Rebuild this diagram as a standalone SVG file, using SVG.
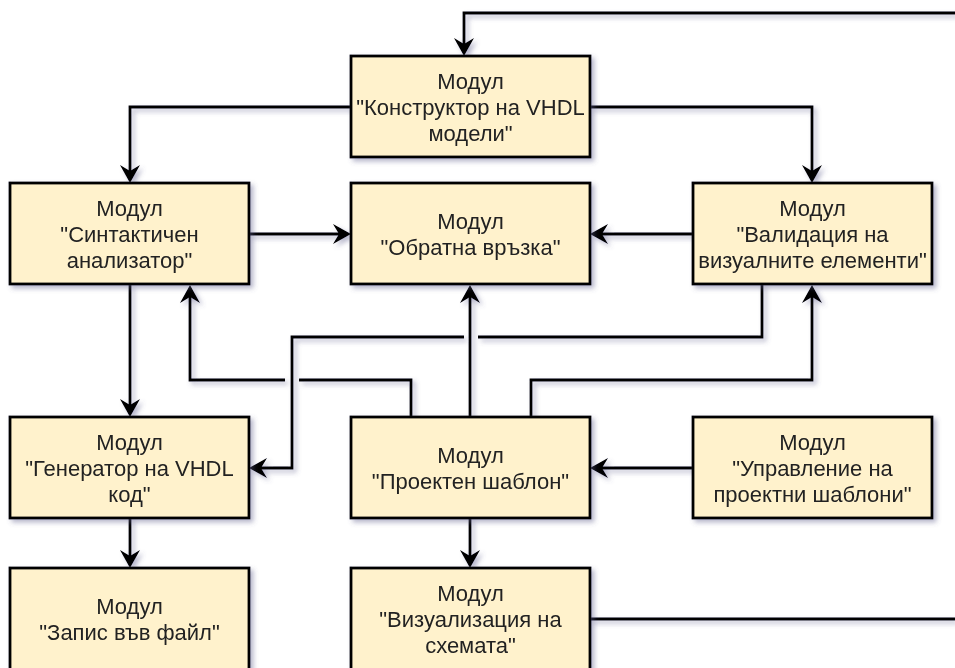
<svg xmlns="http://www.w3.org/2000/svg" width="955" height="668" viewBox="0 0 955 668">
<style>
.box{fill:#fff2cc;stroke:#000;stroke-width:2.8}
.t{font-family:"Liberation Sans",Arial,sans-serif;font-size:22px;fill:#222;text-anchor:middle}
.c{fill:none;stroke:#000;stroke-width:2.8;marker-end:url(#arr)}
.n{fill:none;stroke:#000;stroke-width:2.8}
</style>
<defs>
<filter id="sh" x="-10%" y="-10%" width="130%" height="140%">
<feDropShadow dx="3" dy="3" stdDeviation="2.5" flood-color="#5a5a8a" flood-opacity="0.45"/>
</filter>
<marker id="arr" markerUnits="userSpaceOnUse" markerWidth="20" markerHeight="20" refX="6" refY="10" orient="auto" overflow="visible">
<path d="M0,0 L18,10 L0,20 L6,10 Z" fill="#000"/>
</marker>
</defs>
<rect width="955" height="668" fill="#fff"/>
<g id="connectors" filter="url(#sh)">
<path class="c" d="M955,13 H464 V44"/>
<path class="c" d="M351,107 H130 V171"/>
<path class="c" d="M590,107 H812 V171"/>
<path class="c" d="M249,234 H339"/>
<path class="c" d="M693,234 H602"/>
<path class="c" d="M130,284 V405"/>
<path class="c" d="M411,417 V380 H299 M285,380 H190 V297"/>
<path class="c" d="M762,284 V337 H478 M464,337 H292 V468 H261"/>
<path class="c" d="M470,417 V297"/>
<path class="c" d="M531,417 V380 H812 V297"/>
<path class="c" d="M693,468 H602"/>
<path class="c" d="M470,518 V556"/>
<path class="c" d="M130,518 V556"/>
<path class="n" d="M590,619 H955"/>
</g>
<g id="n-constructor" filter="url(#sh)">
<rect class="box" x="351" y="56" width="239" height="101"/>
<text class="t"><tspan x="470.5" y="88.6">Модул</tspan><tspan x="470.5" y="115">"Конструктор на VHDL</tspan><tspan x="470.5" y="141.4">модели"</tspan></text>
</g>
<g id="n-syntax" filter="url(#sh)">
<rect class="box" x="10" y="183" width="239" height="101"/>
<text class="t"><tspan x="129.5" y="215.6">Модул</tspan><tspan x="129.5" y="242">"Синтактичен</tspan><tspan x="129.5" y="268.4">анализатор"</tspan></text>
</g>
<g id="n-feedback" filter="url(#sh)">
<rect class="box" x="351" y="183" width="239" height="101"/>
<text class="t"><tspan x="470.5" y="228.8">Модул</tspan><tspan x="470.5" y="255.2">"Обратна връзка"</tspan></text>
</g>
<g id="n-validation" filter="url(#sh)">
<rect class="box" x="693" y="183" width="239" height="101"/>
<text class="t"><tspan x="812.5" y="215.6">Модул</tspan><tspan x="812.5" y="242">"Валидация на</tspan><tspan x="812.5" y="268.4">визуалните елементи"</tspan></text>
</g>
<g id="n-generator" filter="url(#sh)">
<rect class="box" x="10" y="417" width="239" height="101"/>
<text class="t"><tspan x="129.5" y="449.6">Модул</tspan><tspan x="129.5" y="476">"Генератор на VHDL</tspan><tspan x="129.5" y="502.4">код"</tspan></text>
</g>
<g id="n-template" filter="url(#sh)">
<rect class="box" x="351" y="417" width="239" height="101"/>
<text class="t"><tspan x="470.5" y="462.8">Модул</tspan><tspan x="470.5" y="489.2">"Проектен шаблон"</tspan></text>
</g>
<g id="n-management" filter="url(#sh)">
<rect class="box" x="693" y="417" width="239" height="101"/>
<text class="t"><tspan x="812.5" y="449.6">Модул</tspan><tspan x="812.5" y="476">"Управление на</tspan><tspan x="812.5" y="502.4">проектни шаблони"</tspan></text>
</g>
<g id="n-file" filter="url(#sh)">
<rect class="box" x="10" y="568" width="239" height="104"/>
<text class="t"><tspan x="129.5" y="613.8">Модул</tspan><tspan x="129.5" y="640.2">"Запис във файл"</tspan></text>
</g>
<g id="n-visual" filter="url(#sh)">
<rect class="box" x="351" y="568" width="239" height="104"/>
<text class="t"><tspan x="470.5" y="600.6">Модул</tspan><tspan x="470.5" y="627">"Визуализация на</tspan><tspan x="470.5" y="653.4">схемата"</tspan></text>
</g>
</svg>
